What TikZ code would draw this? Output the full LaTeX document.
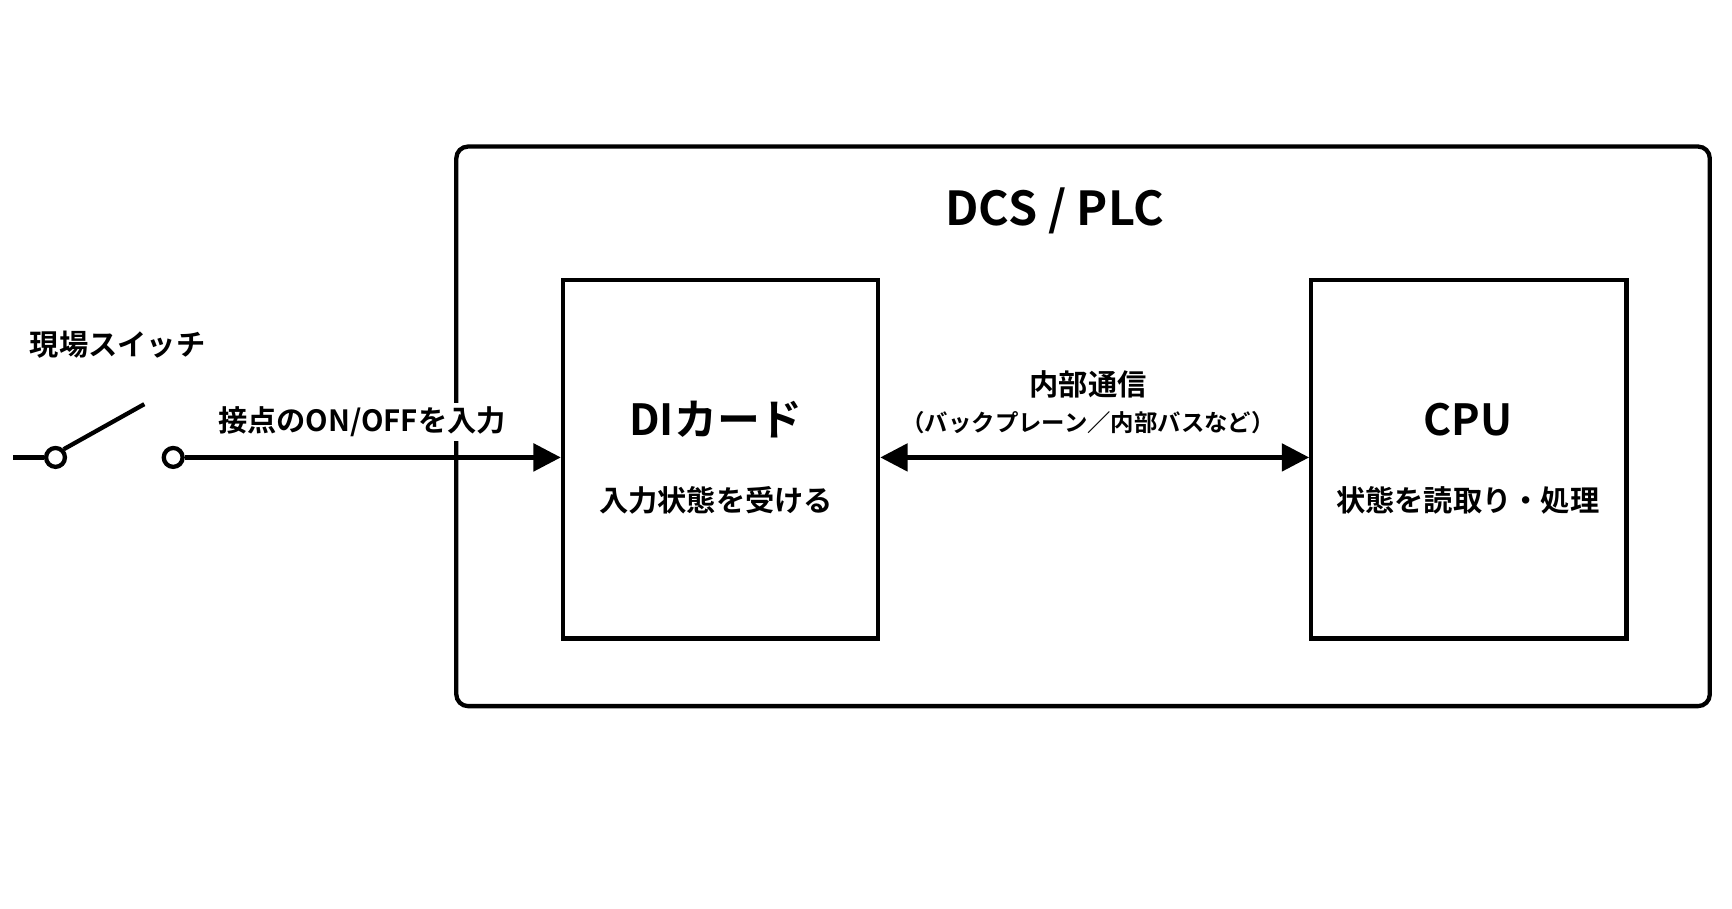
\documentclass[tikz,border=0pt]{standalone}
\usepackage{fontspec}
\setmainfont{Noto Sans CJK JP}[BoldFont={Noto Sans CJK JP Bold}]
\usetikzlibrary{arrows.meta, positioning}

\tikzset{box/.style={draw, line width=2.2pt, minimum width=5.68cm, minimum height=6.46cm},
  wire/.style={line width=2.2pt},
  term/.style={circle, draw, line width=2.2pt, fill=white, inner sep=0pt, minimum size=0.34cm}}

\begin{document}
\begin{tikzpicture}[x=0.02cm, y=-0.02cm, font=\bfseries]
  \useasboundingbox (0,0) rectangle (1560,818);

  % outer frame
  \draw[wire, rounded corners=6pt] (411,132) rectangle (1540,636);
  \node[font=\bfseries\fontsize{24}{28}\selectfont] (dcs) at (950,190) {DCS / PLC};

  \node[box] (di) at (649,413.5) {};
  \node[box] (cpu) at (1323,413.5) {};
  \node[font=\bfseries\fontsize{22}{26}\selectfont] at (645,378) {DIカード};
  \node[font=\bfseries\fontsize{15}{18}\selectfont] at (645,451) {入力状態を受ける};
  \node[font=\bfseries\fontsize{22}{26}\selectfont] at (1322,378) {CPU};
  \node[font=\bfseries\fontsize{15}{18}\selectfont] at (1322,451) {状態を読取り・処理};

  % internal bus
  \draw[wire, {Triangle[length=14pt,width=14pt]}-{Triangle[length=14pt,width=14pt]}]
    (di.east |- 0,412) -- (cpu.west |- 0,412);
  \node[font=\bfseries\fontsize{15}{18}\selectfont] at (980,346) {内部通信};
  \node[font=\bfseries\fontsize{12}{14}\selectfont] at (980,381) {（バックプレーン／内部バスなど）};

  % field switch
  \node[font=\bfseries\fontsize{15}{18}\selectfont] at (106,310) {現場スイッチ};
  \coordinate (lead) at (12,412);
  \node[term] (t1) at (50,412) {};
  \node[term] (t2) at (156,412) {};
  \coordinate (lever) at (130,364);
  \draw[wire] (lead) -- (t1.west);
  \draw[wire] (t1.north east) -- (lever);
  \draw[wire, -{Triangle[length=14pt,width=14pt]}] (t2.east) -- (di.west |- 0,412);
  \node[fill=white, inner sep=2pt, font=\bfseries\fontsize{15}{18}\selectfont] at (326,380) {接点のON/OFFを入力};
\end{tikzpicture}
\end{document}
